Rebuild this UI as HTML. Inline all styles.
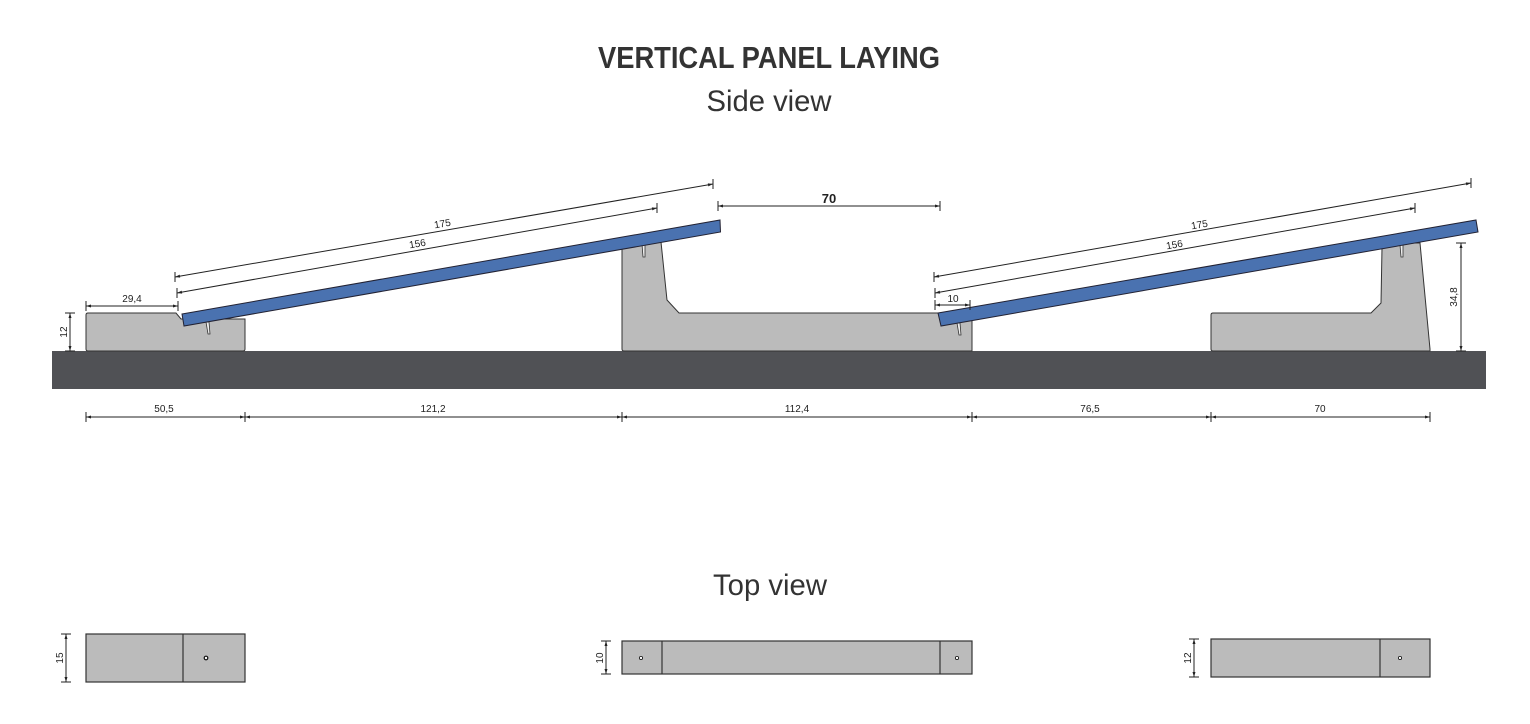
<!DOCTYPE html>
<html><head><meta charset="utf-8"><style>
html,body{margin:0;padding:0;background:#fff;}
svg{display:block;}
text{font-family:"Liberation Sans",sans-serif;fill:#222;}
.d{stroke:#222;stroke-width:1;fill:none;}
.t{font-size:10px;}
</style></head><body>
<svg width="1530" height="724" viewBox="0 0 1530 724" xmlns="http://www.w3.org/2000/svg">
<defs>
<marker id="a" viewBox="0 0 10 10" refX="10" refY="5" markerWidth="6" markerHeight="5" orient="auto-start-reverse"><path d="M0,2 L10,5 L0,8z" fill="#222"/></marker>
</defs>
<text x="769" y="68" text-anchor="middle" font-size="31" font-weight="bold" textLength="342" lengthAdjust="spacingAndGlyphs" style="fill:#333">VERTICAL PANEL LAYING</text>
<text x="769" y="111" text-anchor="middle" font-size="30" textLength="125" lengthAdjust="spacingAndGlyphs" style="fill:#333">Side view</text>
<text x="770" y="595" text-anchor="middle" font-size="30" textLength="114" lengthAdjust="spacingAndGlyphs" style="fill:#333">Top view</text>

<rect x="52" y="351" width="1434" height="38" fill="#505155"/>

<path d="M88,313 L176,313 L181,319 L245,319 L245,349 Q245,351 243,351 L88,351 Q86,351 86,349 L86,315 Q86,313 88,313Z" fill="#bbb" stroke="#333" stroke-width="1"/>
<path d="M622,349 L622,244 Q622,242 624,242 L661,242 L667,300 L679,313 L972,313 L972,351 L624,351 Q622,351 622,349Z" fill="#bbb" stroke="#333" stroke-width="1"/>
<path d="M1211,315 Q1211,313 1213,313 L1371,313 L1381,303 L1382,248 Q1382,243 1387,243 L1420,243 L1430,349 L1430,351 L1213,351 Q1211,351 1211,349Z" fill="#bbb" stroke="#333" stroke-width="1"/>

<g fill="#eee" stroke="#333" stroke-width="0.8">
<path d="M206,322 L209,322 L210,334 L208,334Z"/>
<path d="M642,244 L645,244 L645,257 L643,257Z"/>
<path d="M957,323 L960,323 L961,335 L959,335Z"/>
<path d="M1400,245 L1403,245 L1403,257 L1401,257Z"/>
</g>

<path d="M182,314 L720,220 L720.5,232 L184,326Z" fill="#4a72b0" stroke="#223" stroke-width="1"/>
<path d="M938,313 L1476,220 L1478,232 L941,326Z" fill="#4a72b0" stroke="#223" stroke-width="1"/>

<line class="d" x1="175" y1="277" x2="713" y2="184" marker-start="url(#a)" marker-end="url(#a)"/>
<line class="d" x1="175" y1="272" x2="175" y2="282"/><line class="d" x1="713" y1="179" x2="713" y2="189"/>
<line class="d" x1="177" y1="293" x2="657" y2="208" marker-start="url(#a)" marker-end="url(#a)"/>
<line class="d" x1="177" y1="288" x2="177" y2="298"/><line class="d" x1="657" y1="203" x2="657" y2="213"/>
<text class="t" x="443" y="227" text-anchor="middle" transform="rotate(-9.9 443 227)">175</text>
<text class="t" x="418" y="247" text-anchor="middle" transform="rotate(-9.9 418 247)">156</text>

<line class="d" x1="934" y1="277" x2="1471" y2="183" marker-start="url(#a)" marker-end="url(#a)"/>
<line class="d" x1="934" y1="272" x2="934" y2="282"/><line class="d" x1="1471" y1="178" x2="1471" y2="188"/>
<line class="d" x1="935" y1="293" x2="1415" y2="208" marker-start="url(#a)" marker-end="url(#a)"/>
<line class="d" x1="935" y1="288" x2="935" y2="298"/><line class="d" x1="1415" y1="203" x2="1415" y2="213"/>
<text class="t" x="1200" y="228" text-anchor="middle" transform="rotate(-9.9 1200 228)">175</text>
<text class="t" x="1175" y="248" text-anchor="middle" transform="rotate(-9.9 1175 248)">156</text>

<line class="d" x1="86" y1="306" x2="178" y2="306" marker-start="url(#a)" marker-end="url(#a)"/>
<line class="d" x1="86" y1="301" x2="86" y2="311"/><line class="d" x1="178" y1="301" x2="178" y2="311"/>
<text class="t" x="132" y="302" text-anchor="middle">29,4</text>
<line class="d" x1="935" y1="305" x2="970" y2="305" marker-start="url(#a)" marker-end="url(#a)"/>
<line class="d" x1="935" y1="300" x2="935" y2="310"/><line class="d" x1="970" y1="300" x2="970" y2="310"/>
<text class="t" x="953" y="302" text-anchor="middle">10</text>
<line class="d" x1="718" y1="206" x2="940" y2="206" marker-start="url(#a)" marker-end="url(#a)"/>
<line class="d" x1="718" y1="201" x2="718" y2="211"/><line class="d" x1="940" y1="201" x2="940" y2="211"/>
<text x="829" y="203" text-anchor="middle" font-size="13" font-weight="bold">70</text>
<line class="d" x1="70" y1="313" x2="70" y2="351" marker-start="url(#a)" marker-end="url(#a)"/>
<line class="d" x1="65" y1="313" x2="75" y2="313"/><line class="d" x1="65" y1="351" x2="75" y2="351"/>
<text class="t" x="0" y="0" text-anchor="middle" transform="translate(67 332) rotate(-90)">12</text>
<line class="d" x1="1461" y1="243" x2="1461" y2="351" marker-start="url(#a)" marker-end="url(#a)"/>
<line class="d" x1="1456" y1="243" x2="1466" y2="243"/><line class="d" x1="1456" y1="351" x2="1466" y2="351"/>
<text class="t" x="0" y="0" text-anchor="middle" transform="translate(1457 297) rotate(-90)">34,8</text>

<g>
<line class="d" x1="86" y1="417" x2="245" y2="417" marker-start="url(#a)" marker-end="url(#a)"/>
<line class="d" x1="245" y1="417" x2="622" y2="417" marker-start="url(#a)" marker-end="url(#a)"/>
<line class="d" x1="622" y1="417" x2="972" y2="417" marker-start="url(#a)" marker-end="url(#a)"/>
<line class="d" x1="972" y1="417" x2="1211" y2="417" marker-start="url(#a)" marker-end="url(#a)"/>
<line class="d" x1="1211" y1="417" x2="1430" y2="417" marker-start="url(#a)" marker-end="url(#a)"/>
<line class="d" x1="86" y1="412" x2="86" y2="422"/><line class="d" x1="245" y1="412" x2="245" y2="422"/>
<line class="d" x1="622" y1="412" x2="622" y2="422"/><line class="d" x1="972" y1="412" x2="972" y2="422"/>
<line class="d" x1="1211" y1="412" x2="1211" y2="422"/><line class="d" x1="1430" y1="412" x2="1430" y2="422"/>
<text class="t" x="164" y="412" text-anchor="middle">50,5</text>
<text class="t" x="433" y="412" text-anchor="middle">121,2</text>
<text class="t" x="797" y="412" text-anchor="middle">112,4</text>
<text class="t" x="1090" y="412" text-anchor="middle">76,5</text>
<text class="t" x="1320" y="412" text-anchor="middle">70</text>
</g>

<g stroke="#333" stroke-width="1.2" fill="#bbb">
<rect x="86" y="634" width="159" height="48"/>
<line x1="183" y1="634" x2="183" y2="682"/>
<rect x="622" y="641" width="350" height="33"/>
<line x1="662" y1="641" x2="662" y2="674"/><line x1="940" y1="641" x2="940" y2="674"/>
<rect x="1211" y="639" width="219" height="38"/>
<line x1="1380" y1="639" x2="1380" y2="677"/>
</g>
<circle cx="206" cy="658" r="1.8" fill="#fff" stroke="#111" stroke-width="1.2"/>
<circle cx="641" cy="658" r="1.6" fill="#fff" stroke="#111" stroke-width="0.8"/>
<circle cx="957" cy="658" r="1.6" fill="#fff" stroke="#111" stroke-width="0.8"/>
<circle cx="1400" cy="658" r="1.6" fill="#fff" stroke="#111" stroke-width="0.8"/>
<line class="d" x1="66" y1="634" x2="66" y2="682" marker-start="url(#a)" marker-end="url(#a)"/>
<line class="d" x1="61" y1="634" x2="71" y2="634"/><line class="d" x1="61" y1="682" x2="71" y2="682"/>
<text class="t" x="0" y="0" text-anchor="middle" transform="translate(63 658) rotate(-90)">15</text>
<line class="d" x1="606" y1="641" x2="606" y2="674" marker-start="url(#a)" marker-end="url(#a)"/>
<line class="d" x1="601" y1="641" x2="611" y2="641"/><line class="d" x1="601" y1="674" x2="611" y2="674"/>
<text class="t" x="0" y="0" text-anchor="middle" transform="translate(603 658) rotate(-90)">10</text>
<line class="d" x1="1194" y1="639" x2="1194" y2="677" marker-start="url(#a)" marker-end="url(#a)"/>
<line class="d" x1="1189" y1="639" x2="1199" y2="639"/><line class="d" x1="1189" y1="677" x2="1199" y2="677"/>
<text class="t" x="0" y="0" text-anchor="middle" transform="translate(1191 658) rotate(-90)">12</text>
</svg>
</body></html>
